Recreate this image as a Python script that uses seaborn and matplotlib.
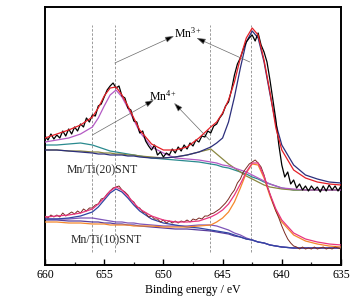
import numpy as np
import pandas as pd
import matplotlib
matplotlib.use("Agg")
import matplotlib.pyplot as plt
from matplotlib.ticker import MultipleLocator
import seaborn as sns

# ---------------- data ----------------
energy_fit = [660, 659, 658, 657, 656, 655.5, 655, 654.5, 654, 653.5, 653, 652.5, 652,
              651, 650, 649, 648, 647, 646, 645.5, 645, 644.5, 644, 643.5, 643, 642.5,
              642, 641.5, 641, 640.5, 640, 639, 638, 637, 636, 635]
energy_raw = np.arange(660.0, 634.99, -0.25)

# Mn/Ti(20)SNT (upper spectrum)
raw_20 = [129, 125, 131, 126, 130, 127, 134, 129, 136, 131,
          138, 134, 141, 138, 147, 143, 150, 149, 159, 161,
          168, 175, 179, 182, 177, 179, 169, 167, 157, 155,
          144, 143, 132, 134, 124, 119, 115, 120, 110, 113,
          108, 112, 110, 116, 112, 118, 114, 120, 116, 122,
          119, 125, 123, 129, 128, 134, 132, 139, 141, 147,
          151, 159, 163, 175, 190, 201, 207, 216, 223, 227,
          230, 224, 232, 220, 213, 203, 185, 165, 145, 120,
          100, 88, 93, 81, 85, 77, 81, 75, 79, 74,
          79, 75, 78, 73, 79, 74, 80, 75, 79, 74, 79]
envelope_20 = [127, 131, 135, 140, 148, 157, 169, 177, 178, 170, 159, 147, 135, 121, 115, 115,
               118, 127, 138, 143, 152, 165, 183, 207, 227, 237, 230, 205, 173, 137, 115, 95,
               87, 83, 81, 80]
mn3_20 = [115, 115, 114, 113, 112, 111, 111, 110, 110, 110, 109, 109, 108, 107, 107, 108,
          110, 113, 118, 122, 127, 143, 168, 197, 223, 234, 227, 203, 171, 141, 120, 100,
          90, 86, 83, 82]
mn4_20 = [123, 125, 127, 131, 138, 147, 159, 170, 175, 168, 157, 145, 133, 118, 112, 107,
          106, 105, 103, 102, 100, 99, 97, 95, 93, 90, 87, 84, 81, 79, 77, 76, 75, 75, 75, 75]
teal_20 = [120, 120, 121, 122, 120, 118, 116, 114, 113, 112, 111, 110, 109, 107, 106, 105,
           104, 103, 101, 100, 98, 97, 95, 93, 91, 88, 86, 83, 81, 79, 77, 75, 75, 75, 75, 75]
olive_20 = [115, 115, 114, 114, 113, 113, 112, 112, 111, 111, 110, 110, 109, 108, 107, 108,
            110, 113, 116, 111, 106, 101, 97, 93, 89, 86, 83, 80, 78, 77, 76, 75, 75, 75, 75, 75]

# Mn/Ti(10)SNT (lower spectrum)
raw_10 = [49, 47, 50, 48, 50, 48, 52, 49, 51, 53,
          51, 54, 52, 56, 54, 57, 57, 60, 61, 66,
          67, 71, 74, 77, 78, 79, 75, 73, 70, 65,
          63, 58, 57, 53, 52, 48, 49, 46, 46, 43,
          45, 42, 44, 42, 44, 42, 44, 43, 45, 43,
          46, 45, 47, 46, 49, 49, 51, 52, 54, 56,
          59, 62, 66, 71, 75, 82, 86, 93, 97, 101,
          103, 105, 102, 98, 90, 79, 71, 62, 54, 47,
          39, 32, 26, 22, 19, 18, 16, 18, 16, 17,
          16, 18, 16, 17, 18, 16, 17, 16, 18, 17, 16]
envelope_10 = [48, 49, 50, 52, 56, 61, 67, 74, 78, 75, 69, 62, 56, 49, 45, 43, 43, 44, 48, 51,
               55, 61, 70, 81, 93, 102, 102, 89, 71, 56, 45, 32, 26, 23, 21, 20]
mn3_10 = [43, 43, 42, 42, 41, 41, 41, 40, 40, 40, 40, 39, 39, 39, 38, 38, 38, 39, 40, 43,
          47, 53, 63, 77, 92, 101, 100, 87, 69, 54, 43, 30, 24, 21, 19, 18]
mn4_10 = [46, 46, 47, 49, 53, 58, 65, 72, 76, 73, 67, 60, 54, 46, 42, 40, 38, 37, 35, 34,
          33, 32, 30, 28, 26, 25, 23, 22, 20, 19, 18, 17, 17, 17, 17, 17]
sat_10 = [46, 46, 46, 47, 47, 46, 45, 44, 43, 43, 42, 42, 41, 40, 39, 39, 39, 40, 40, 39,
          37, 35, 32, 30, 27, 25, 23, 22, 20, 19, 18, 17, 17, 17, 17, 17]
bg_10 = [45, 45, 44, 44, 43, 43, 42, 42, 41, 41, 40, 40, 39, 38, 37, 36, 36, 35, 34, 33,
         32, 31, 29, 28, 26, 25, 23, 22, 20, 19, 18, 17, 17, 17, 17, 17]

ref_lines = [656.0, 654.1, 646.1, 642.6]
xticks = [660, 655, 650, 645, 640, 635]
sample_labels = ["Mn/Ti(20)SNT", "Mn/Ti(10)SNT"]

# ---------------- style ----------------
sns.set_theme(style="ticks")
plt.rcParams['font.family'] = ['Liberation Serif', 'DejaVu Serif']
plt.rcParams['mathtext.fontset'] = 'custom'
plt.rcParams['mathtext.rm'] = 'Liberation Serif'
plt.rcParams['mathtext.it'] = 'Liberation Serif:italic'
plt.rcParams['mathtext.bf'] = 'Liberation Serif:bold'

fig = plt.figure(figsize=(3.57, 3.02), dpi=100)
fig.patch.set_facecolor("white")
ax = fig.add_axes([45/357, 37/302, 296/357, 258/302])
ax.set_facecolor("white")

# reference dashed lines
ax.vlines(ref_lines, 13, 240, colors="#8a8a8a", linestyles=(0, (3, 2)), linewidth=0.6, zorder=1)

def line(x, y, color, lw, z):
    sns.lineplot(x=x, y=y, ax=ax, color=color, linewidth=lw, estimator=None,
                 sort=False, legend=False, zorder=z)

# lower spectrum
line(energy_fit, bg_10, "#5a3d9c", 0.9, 2)
line(energy_fit, sat_10, "#7f56b8", 0.9, 2)
line(energy_fit, mn4_10, "#2f44a3", 0.9, 3)
line(energy_fit, mn3_10, "#f5882c", 0.9, 3)
line(energy_raw, raw_10, "#7a2a22", 0.7, 4)
line(energy_fit, envelope_10, "#e8357f", 0.9, 5)

# upper spectrum
line(energy_fit, teal_20, "#2a8a8f", 0.9, 2)
line(energy_fit, olive_20, "#8a8740", 0.9, 2)
line(energy_fit, mn4_20, "#b45ac4", 0.9, 3)
line(energy_fit, mn3_20, "#2c2f7c", 0.9, 3)
line(energy_raw, raw_20, "black", 0.9, 4)
line(energy_fit, envelope_20, "#e41f26", 0.9, 5)

# annotations
arrow = dict(arrowstyle="-|>,head_length=0.45,head_width=0.15", ec="#6a6a6a", fc="black",
             lw=0.5, shrinkA=0, shrinkB=0)
ax.text(647.95, 232, r"Mn$^{3+}$", ha="center", va="center", fontsize=8.5, color="black")
ax.annotate("", xy=(649.1, 229), xytext=(654.1, 202), arrowprops=arrow)
ax.annotate("", xy=(647.2, 227), xytext=(642.7, 203), arrowprops=arrow)
ax.text(650.0, 169, r"Mn$^{4+}$", ha="center", va="center", fontsize=8.5, color="black")
ax.annotate("", xy=(650.8, 165), xytext=(656.0, 130), arrowprops=arrow)
ax.annotate("", xy=(649.1, 162), xytext=(646.1, 125), arrowprops=arrow)

ax.text(655.2, 95, sample_labels[0], ha="center", va="center", fontsize=8.5)
ax.text(654.85, 25, sample_labels[1], ha="center", va="center", fontsize=8.5)

# axes
ax.set_xlim(660, 635)
ax.set_ylim(0, 258)
ax.set_xticks(xticks)
ax.set_xticklabels([str(t) for t in xticks])
ax.xaxis.set_minor_locator(MultipleLocator(2.5))
ax.set_yticks([])
ax.tick_params(axis="x", which="major", direction="in", length=4, width=1.0,
               labelsize=8.5, pad=3, colors="black")
ax.tick_params(axis="x", which="minor", direction="in", length=2.5, width=0.9)
ax.set_xlabel("Binding energy / eV", fontsize=8.5, labelpad=2, color="black")
ax.set_ylabel("")
for s in ax.spines.values():
    s.set_visible(True)
    s.set_linewidth(1.4)
    s.set_color("black")

fig.savefig("out.png", dpi=100, facecolor="white")
